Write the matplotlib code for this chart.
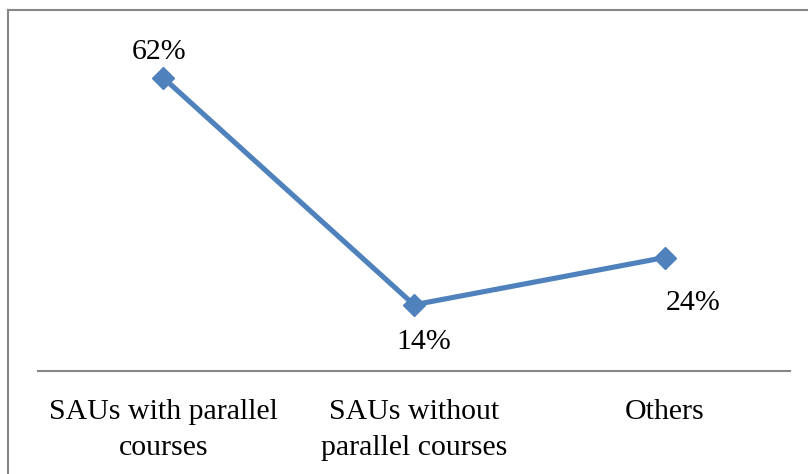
import matplotlib.pyplot as plt
from matplotlib.lines import Line2D

categories = ['SAUs with parallel\ncourses', 'SAUs without\nparallel courses', 'Others']
values = [62, 14, 24]
labels = ['62%', '14%', '24%']
# label offsets (pixels) from each point, as in the source chart
label_dx = [-4, 10, 28]
label_dy = [19, -44, -52]

W, H = 808, 474
plt.rcParams['font.family'] = ['Liberation Serif', 'DejaVu Serif']

fig = plt.figure(figsize=(W / 100, H / 100), dpi=100)
ax = fig.add_axes([38 / W, 1 - 371 / H, (790 - 38) / W, (371 - 40) / H])

x = list(range(len(categories)))
ax.plot(x, values, color='#4F81BD', lw=3.7, marker='D', markersize=11, zorder=3)

ax.set_xlim(-0.5, 2.5)
ax.set_ylim(0, 70)
for xi, v, lab, dx, dy in zip(x, values, labels, label_dx, label_dy):
    ax.annotate(lab, (xi, v), xytext=(dx, dy), textcoords='offset pixels',
                ha='center', va='baseline', fontsize=21.5)

ax.set_xticks(x)
ax.set_xticklabels(categories, fontsize=21.5, linespacing=1.5)
ax.tick_params(axis='x', length=0, pad=20)
ax.set_yticks([])
for s in ['top', 'right', 'left']:
    ax.spines[s].set_visible(False)
ax.spines['bottom'].set_color('#868686')
ax.spines['bottom'].set_linewidth(1.5)

# outer chart border (top and left edges visible)
fig.add_artist(Line2D([8 / W, 1], [1 - 10 / H, 1 - 10 / H], color='#868686', lw=1.5, transform=fig.transFigure))
fig.add_artist(Line2D([8 / W, 8 / W], [0, 1 - 10 / H], color='#868686', lw=1.5, transform=fig.transFigure))

fig.savefig('out.png', dpi=100)
